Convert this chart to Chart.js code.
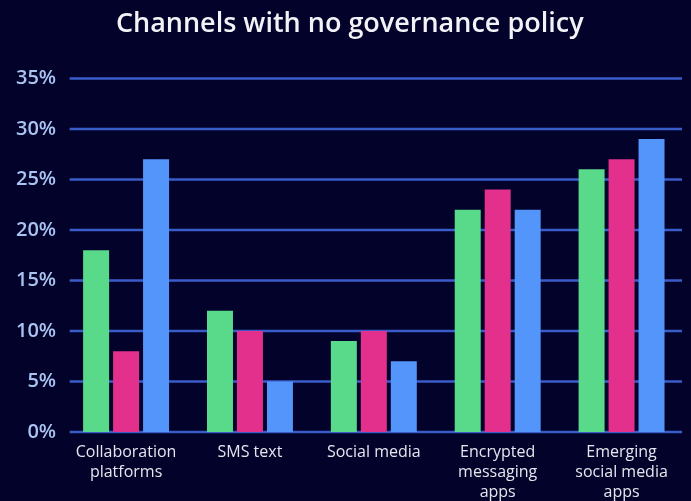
<!DOCTYPE html>
<html>
<head>
<meta charset="utf-8">
<script src="https://cdn.jsdelivr.net/npm/chart.js@4"></script>
<style>
  html, body { margin: 0; padding: 0; background: #03022a; }
  #wrap { width: 691px; height: 501px; }
</style>
</head>
<body>
<div id="wrap"><canvas id="myChart"></canvas></div>
<script>
// Channels with no governance policy
const labels = [
  ['Collaboration', 'platforms'],
  'SMS text',
  'Social media',
  ['Encrypted', 'messaging', 'apps'],
  ['Emerging', 'social media', 'apps']
];
const greenData = [18, 12, 9, 22, 26];
const pinkData = [8, 10, 10, 24, 27];
const blueData = [27, 5, 7, 22, 29];
const yTicks = [0, 5, 10, 15, 20, 25, 30, 35];

// horizontal grid lines, inset a little from the labels
const gridLines = {
  id: 'gridLines',
  beforeDatasetsDraw(chart) {
    const { ctx, chartArea, scales } = chart;
    ctx.save();
    ctx.strokeStyle = '#3a5cc8';
    ctx.lineWidth = 2.5;
    scales.y.ticks.forEach(t => {
      const y = scales.y.getPixelForValue(t.value);
      ctx.beginPath();
      ctx.moveTo(chartArea.left + 5.5, y);
      ctx.lineTo(chartArea.right - 1.5, y);
      ctx.stroke();
    });
    ctx.restore();
  }
};

const ctx = document.getElementById('myChart').getContext('2d');

new Chart(ctx, {
  type: 'bar',
  data: {
    labels: labels,
    datasets: [{
      data: greenData,
      backgroundColor: '#59d98a'
    }, {
      data: pinkData,
      backgroundColor: '#e2308c'
    }, {
      data: blueData,
      backgroundColor: '#5495fb'
    }]
  },
  plugins: [gridLines],
  options: {
    responsive: true,
    maintainAspectRatio: false,
    animation: false,
    categoryPercentage: 0.726,
    barPercentage: 0.867,
    layout: {
      padding: { left: 16, right: 7.5, top: 4, bottom: -3 }
    },
    plugins: {
      legend: { display: false },
      tooltip: { enabled: false },
      title: {
        display: true,
        text: 'Channels with no governance policy',
        color: '#f2f2f7',
        font: { family: 'Open Sans', size: 27, weight: 600 },
        padding: { top: 4, bottom: 38 }
      }
    },
    scales: {
      x: {
        grid: { display: false },
        border: { display: false },
        ticks: {
          color: '#e6e6ee',
          font: { family: 'Open Sans', size: 16, lineHeight: 1.25 },
          padding: 2,
          maxRotation: 0,
          autoSkip: false
        }
      },
      y: {
        min: 0,
        max: 35,
        afterBuildTicks: (axis) => {
          axis.ticks = yTicks.map(v => ({ value: v }));
        },
        grid: { display: false },
        border: { display: false },
        ticks: {
          color: '#a9c4f2',
          font: { family: 'Open Sans', size: 20, weight: 600 },
          padding: 0,
          callback: (v) => v + '%'
        }
      }
    }
  }
});
</script>
</body>
</html>
